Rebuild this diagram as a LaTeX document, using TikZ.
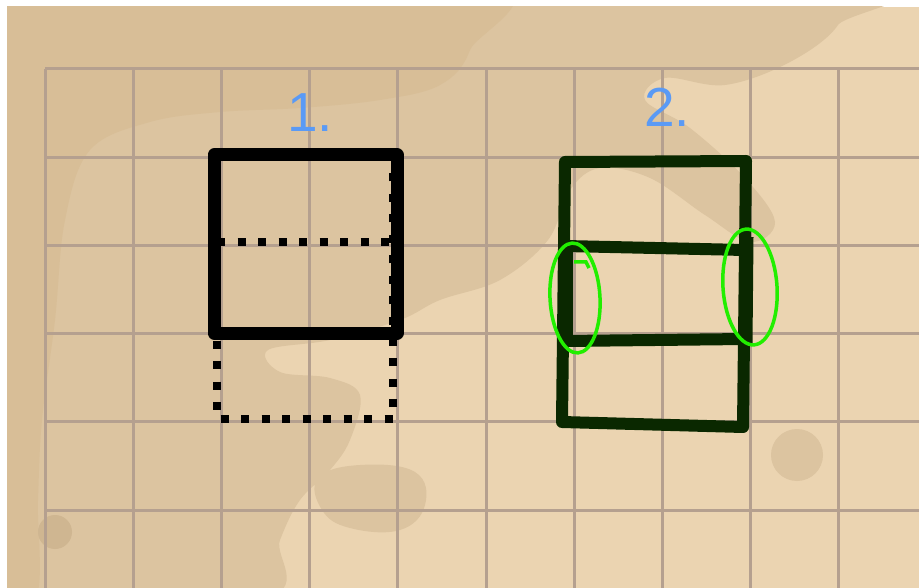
\documentclass[tikz,border=0pt]{standalone}
\usepackage{fontspec}
\setmainfont{Liberation Sans}
\definecolor{bgL}{HTML}{EBD4B1}
\definecolor{bgM}{HTML}{DCC4A0}
\definecolor{bgD}{HTML}{D8BE97}
\definecolor{gridc}{HTML}{B5A08F}
\definecolor{boxg}{HTML}{0A2800}
\definecolor{hlc}{HTML}{22EE00}
\definecolor{labc}{HTML}{5A9AF5}
\begin{document}
\begin{tikzpicture}[x=1pt,y=-1pt,
  gridline/.style={draw=gridc, line width=3},
  dotline/.style={draw=black, line width=8, dash pattern=on 8pt off 12.5pt},
  solidbox/.style={draw=black, line width=13, line join=round},
  greenbox/.style={draw=boxg, line width=12, line join=round},
  hlstyle/.style={draw=hlc, line width=3.5},
  lbl/.style={inner sep=0pt, text=labc, font=\fontsize{55}{60}\selectfont}]
\useasboundingbox (0,0) rectangle (919,588);
\fill[white] (0,0) rectangle (919,588);
\fill[bgL] (7,7) rectangle (919,588);
\begin{scope}
  \clip (7,7) rectangle (919,588);
  \fill[bgM] plot[smooth cycle, tension=0.6] coordinates {(-20,-20) (845,-20) (838,25) (790,62) (725,85) (665,78) (645,100) (690,128) (745,178) (775,222) (750,242) (705,215) (650,178) (600,168) (570,190) (548,240) (500,280) (440,300) (400,320) (330,340) (268,350) (280,372) (330,378) (360,395) (350,440) (330,470) (300,500) (280,540) (260,600) (-20,600)};
  \fill[bgM] plot[smooth cycle, tension=0.7] coordinates {(318,478) (360,465) (415,472) (425,505) (400,530) (350,528) (322,510)};
  \fill[bgD] plot[smooth cycle, tension=0.6] coordinates {(-20,-20) (480,-20) (470,50) (440,85) (380,100) (300,108) (220,112) (150,122) (90,150) (65,220) (55,320) (42,420) (38,500) (35,600) (-20,600)};
  \fill[bgM] (110,165) circle (18);
  \fill[bgM] (797,455) circle (26);
  \fill[bgD!96!black] (55,532) circle (17);
\end{scope}
% grid
\foreach \i in {0,...,9} \draw[gridline] ({45+88.2*\i},69) -- ({45+88.2*\i},588);
\foreach \j in {0,...,5} \draw[gridline] (45,{69+88.2*\j}) -- (919,{69+88.2*\j});
% box 1
\coordinate (b1a) at (217,156);
\coordinate (b1b) at (217,419);
\coordinate (b1c) at (393,419);
\coordinate (b1d) at (393,156);
\draw[dotline] (b1a) -- (b1b) -- (b1c) -- (b1d);
\draw[dotline] (217,242) -- (393,242);
\draw[solidbox] (214,155) rectangle (397,333);
% box 2
\coordinate (b2a) at (565,162);
\coordinate (b2b) at (746,161);
\coordinate (b2c) at (743,427);
\coordinate (b2d) at (562,422);
\draw[greenbox] (b2a) -- (b2b) -- (b2c) -- (b2d) -- cycle;
\draw[greenbox] (565,246) -- (745,250);
\draw[greenbox] (565,341) -- (745,339);
\draw[greenbox, line width=15] (565,246) -- (565,341);
\draw[greenbox, line width=13] (747,237) -- (746,343);
% highlights
\draw[hlstyle] (575,298) ellipse [x radius=25, y radius=55, rotate=3];
\draw[hlstyle] (750,287) ellipse [x radius=27, y radius=58, rotate=4];
\draw[hlstyle] (574,262) -- (586,262) -- (589,268);
% labels
\node[lbl] (l1) at (310,112.5) {1.};
\node[lbl] (l2) at (667,107) {2.};
\end{tikzpicture}
\end{document}
